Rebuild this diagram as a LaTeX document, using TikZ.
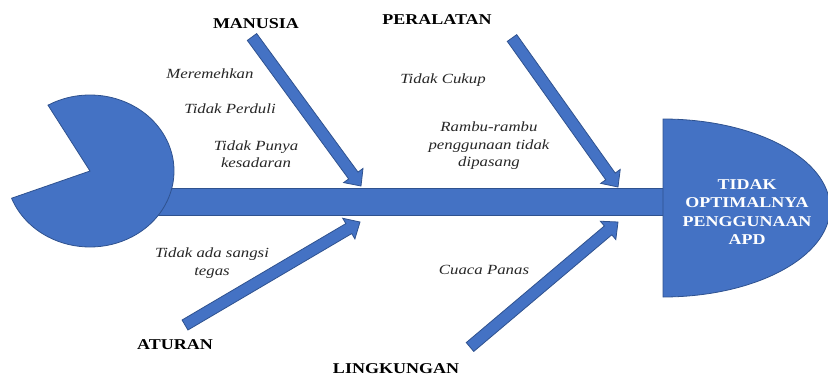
\documentclass[tikz,border=0pt]{standalone}
\usepackage{fontspec}
\setmainfont{Liberation Serif}[FakeStretch=1.2]
\usetikzlibrary{calc}

\definecolor{fishblue}{HTML}{4472C4}
\definecolor{fishedge}{HTML}{2F528F}

% block arrow from tail #1 to tip #2
\newcommand{\causearrow}[2]{%
    \coordinate (hb) at ($(#2)!13pt!(#1)$);
    \draw[bone] ($(#1)!5.8pt!90:(#2)$) -- ($(hb)!5.8pt!90:(#2)$)
        -- ($(hb)!12pt!90:(#2)$) -- (#2) -- ($(hb)!12pt!-90:(#2)$)
        -- ($(hb)!5.8pt!-90:(#2)$) -- ($(#1)!5.8pt!-90:(#2)$) -- cycle;
}

\begin{document}
\begin{tikzpicture}[x=1pt,y=1pt,
    bone/.style={fill=fishblue, draw=fishedge, line width=0.8pt, line join=miter},
    cat/.style={font=\fontsize{15}{18}\selectfont\bfseries, inner sep=0pt},
    why/.style={font=\fontsize{14}{17.5}\selectfont\itshape, align=center, inner sep=0pt, text=black!85}]
    \useasboundingbox (0,0) rectangle (828,-378);

    % spine
    \draw [bone] (150,-188) rectangle (665,-215);
    % tail
    \draw [bone] (90,-171) -- ++(120:84pt and 76pt)
        arc [start angle=120, end angle=-159, x radius=84, y radius=76] -- cycle;
    % head
    \draw [bone] (663,-119) arc [start angle=90, end angle=-90, x radius=167, y radius=89] -- cycle;
    \node [font=\fontsize{15}{18.3}\selectfont\bfseries, align=center, text=white]
        (effect) at (747,-212) {TIDAK\\OPTIMALNYA\\PENGGUNAAN\\APD};

    % causes
    \coordinate (manusiaTail) at (252,-37);
    \coordinate (manusiaTip) at (361,-186);
    \coordinate (peralatanTail) at (512,-38);
    \coordinate (peralatanTip) at (618,-187);
    \coordinate (aturanTail) at (185,-325);
    \coordinate (aturanTip) at (360,-222);
    \coordinate (lingkunganTail) at (470,-347);
    \coordinate (lingkunganTip) at (618,-222);

    \causearrow{manusiaTail}{manusiaTip}
    \causearrow{peralatanTail}{peralatanTip}
    \causearrow{aturanTail}{aturanTip}
    \causearrow{lingkunganTail}{lingkunganTip}

    \node [cat] (manusia) at (256,-24) {MANUSIA};
    \node [cat] (peralatan) at (437,-20) {PERALATAN};
    \node [cat] (aturan) at (175,-345) {ATURAN};
    \node [cat] (lingkungan) at (396,-369) {LINGKUNGAN};

    % sub causes
    \node [why] (meremehkan) at (210,-74) {Meremehkan};
    \node [why] (perduli) at (230,-109) {Tidak Perduli};
    \node [why] (kesadaran) at (256,-154) {Tidak Punya\\kesadaran};
    \node [why] (cukup) at (443,-80) {Tidak Cukup};
    \node [why] (rambu) at (489,-146) {Rambu-rambu\\penggunaan tidak\\dipasang};
    \node [why] (sangsi) at (212,-263) {Tidak ada sangsi\\tegas};
    \node [why] (cuaca) at (484,-270) {Cuaca Panas};
\end{tikzpicture}
\end{document}
